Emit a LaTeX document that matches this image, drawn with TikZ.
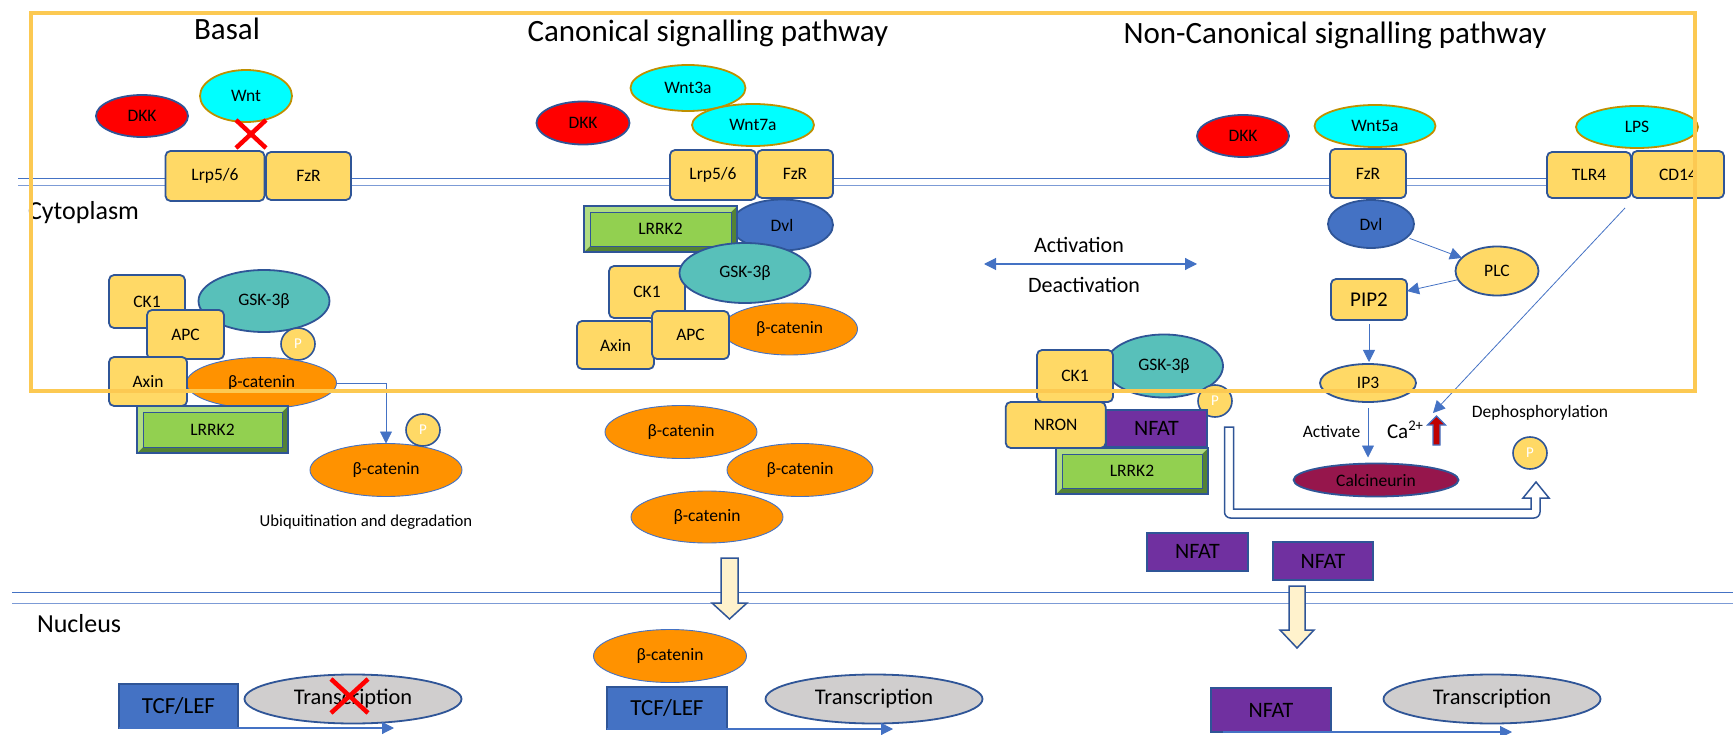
\documentclass[tikz,border=0pt]{standalone}
\usepackage{fontspec}
\setmainfont{Carlito}
\usetikzlibrary{shapes.geometric,arrows.meta}
\definecolor{bdark}{RGB}{47,85,151}
\definecolor{bmid}{RGB}{68,114,196}
\definecolor{blight}{RGB}{124,155,214}
\definecolor{boxy}{RGB}{255,217,102}
\definecolor{frameY}{RGB}{252,201,82}
\definecolor{cyanW}{RGB}{0,255,255}
\definecolor{goldB}{RGB}{191,144,0}
\definecolor{tealG}{RGB}{88,192,186}
\definecolor{betaO}{RGB}{255,146,0}
\definecolor{lgreen}{RGB}{146,208,80}
\definecolor{bevL}{RGB}{176,220,130}
\definecolor{bevD}{RGB}{84,130,53}
\definecolor{nfatP}{RGB}{112,48,160}
\definecolor{calcR}{RGB}{150,22,76}
\definecolor{trG}{RGB}{208,206,206}
\definecolor{arrY}{RGB}{255,242,204}
\definecolor{caRed}{RGB}{192,0,0}
\newcommand\fsz[1]{\fontsize{#1pt}{#1pt}\selectfont}
\begin{document}
\begin{tikzpicture}[x=1pt,y=-1pt,
  every node/.style={inner sep=0pt,outer sep=0pt,font=\fsz{17.5}},
  sz/.style n args={2}{minimum width=#1,minimum height=#2},
  box/.style={draw=bdark,line width=1.8pt,fill=boxy,rounded corners=5pt},
  ell/.style={ellipse,draw=bdark,line width=1.8pt},
  wnt/.style={ellipse,draw=goldB,line width=1.8pt,fill=cyanW},
  bell/.style={ellipse,draw=bmid,line width=0.9pt,fill=betaO},
  pc/.style={ellipse,draw=bdark,line width=1.6pt,fill=boxy,text=white,font=\fsz{15},minimum width=34,minimum height=32},
  tcf/.style={draw=bdark,line width=1.8pt,fill=bmid,font=\fsz{23}},
  nfat/.style={draw=bdark,line width=1.8pt,fill=nfatP,font=\fsz{22}},
  trans/.style={ellipse,draw=bdark,line width=1.8pt,fill=trG,font=\fsz{22.4},minimum width=217,minimum height=49},
  lrrk/.style={draw=bdark,line width=1.6pt,fill=bevD,
    path picture={
      \fill[bevL] (path picture bounding box.south west) -- (path picture bounding box.north west) -- (path picture bounding box.north east) -- ([shift={(-6pt,-6pt)}]path picture bounding box.north east) -- ([shift={(6pt,-6pt)}]path picture bounding box.north west) -- ([shift={(6pt,6pt)}]path picture bounding box.south west) -- cycle;
      \draw[fill=lgreen,draw=bdark,line width=0.8pt] ([shift={(6pt,6pt)}]path picture bounding box.south west) rectangle ([shift={(-6pt,-6pt)}]path picture bounding box.north east);
    }},
  arr/.style={draw=bmid,line width=1.1pt,-{Triangle[length=12pt,width=12pt]}},
  thinarr/.style={draw=bmid,line width=0.8pt,-{Triangle[length=12pt,width=12pt]}},
  redx/.style={draw=red,line width=4.5pt},
  blockarr/.style={draw=bdark,line width=1.5pt,fill=arrY,line join=miter},
  memA/.style={draw=bmid,line width=1.4pt},
  memB/.style={draw=blight,line width=1.4pt}
]
\useasboundingbox (0,0) rectangle (1733,735);
% membranes
\draw[memA] (18,178.5) -- (1722,178.5);
\draw[memB] (18,185.5) -- (1722,185.5);
\draw[memA] (12,592.5) -- (1733,592.5);
\draw[memB] (12,603.5) -- (1733,603.5);

% titles and labels
\node[anchor=base,font=\fsz{31}] (tBasal) at (227,40) {Basal};
\node[anchor=base,font=\fsz{31}] (tCan) at (708,42) {Canonical signalling pathway};
\node[anchor=base,font=\fsz{31}] (tNon) at (1335,44) {Non-Canonical signalling pathway};
\node[anchor=base west,font=\fsz{26}] (cyto) at (28,220) {Cytoplasm};
\node[anchor=base west,font=\fsz{26}] (nucl) at (37,632) {Nucleus};
\node[anchor=base,font=\fsz{22}] (actT) at (1079,253) {Activation};
\node[anchor=base,font=\fsz{22}] (deactT) at (1084,293) {Deactivation};
\coordinate (actL) at (984,264);
\coordinate (actR) at (1197,264);
\draw[draw=bmid,line width=1.1pt,{Triangle[length=12pt,width=12pt]}-{Triangle[length=12pt,width=12pt]}] (actL) -- (actR);

% ---------------- Basal ----------------
\node[ell,fill=red,sz={92}{42}] (dkkB) at (142,116) {DKK};
\node[wnt,sz={92}{52}] (wntB) at (246,96) {Wnt};
\node[box,sz={99}{50}] (lrpB) at (215,176) {Lrp5/6};
\node[box,sz={85}{48}] (fzrB) at (308.5,176) {FzR};
\draw[redx] (236,120) -- (266,148);
\draw[redx] (266,120) -- (236,148);
\node[ell,fill=tealG,sz={131}{62}] (gskB) at (264,301) {GSK-3β};
\node[box,sz={76}{53}] (ck1B) at (147,301.5) {CK1};
\node[box,sz={77}{49}] (apcB) at (185.5,334.5) {APC};
\node[pc] (pB) at (298,344) {P};
\node[bell,sz={150}{51}] (betaB) at (261.5,383) {β-catenin};
\node[box,sz={78}{49}] (axinB) at (148,381.5) {Axin};
\node[lrrk,sz={151}{47}] (lrrkB) at (212.5,429.5) {LRRK2};
\node[bell,sz={152}{53}] (betaB2) at (386,470) {β-catenin};
\node[pc] (pB2) at (423,430) {P};
\draw[thinarr] (betaB.east) -| (betaB2.north);
\node[font=\fsz{16.7}] (ubq) at (366,522) {Ubiquitination and degradation};
% nucleus basal
\node[tcf,sz={119}{44}] (tcfB) at (178.5,706) {TCF/LEF};
\node[trans] (transB) at (353,699) {Transcription};
\draw[redx] (331,679) -- (368,713);
\draw[redx] (368,679) -- (331,713);
\coordinate (geneB) at (394,728);
\draw[arr] (tcfB.south west) -- (tcfB.south west -| geneB);

% ---------------- Canonical ----------------
\node[ell,fill=red,sz={93}{43}] (dkkC) at (583,123) {DKK};
\node[wnt,sz={115}{46}] (wnt3a) at (688,88) {Wnt3a};
\node[wnt,sz={122}{42}] (wnt7a) at (753,125) {Wnt7a};
\node[box,sz={86}{50}] (lrpC) at (713,175) {Lrp5/6};
\node[box,sz={76}{48}] (fzrC) at (795,174) {FzR};
\node[ell,fill=bmid,sz={102}{51}] (dvlC) at (782,225) {Dvl};
\node[lrrk,sz={153}{46}] (lrrkC) at (660.5,229) {LRRK2};
\node[box,sz={76}{52}] (ck1C) at (647,292) {CK1};
\node[ell,fill=tealG,sz={131}{60}] (gskC) at (745,273) {GSK-3β};
\node[bell,sz={136}{52}] (betaC) at (789.5,329) {β-catenin};
\node[box,sz={77}{48}] (axinC) at (615.5,345) {Axin};
\node[box,sz={77}{48}] (apcC) at (690.5,335) {APC};
\node[bell,sz={152}{53}] (betaC1) at (681,432) {β-catenin};
\node[bell,sz={146}{53}] (betaC2) at (800,470) {β-catenin};
\node[bell,sz={152}{52}] (betaC3) at (707,517) {β-catenin};
\draw[blockarr] (721,558) -- (721,603) -- (712,603) -- (729.5,619) -- (747,603) -- (738,603) -- (738,558) -- cycle;
\node[bell,sz={153}{53}] (betaN) at (670,656) {β-catenin};
\node[tcf,sz={120}{42}] (tcfC) at (667,708) {TCF/LEF};
\node[trans] (transC) at (874,699) {Transcription};
\coordinate (geneC) at (893,730);
\draw[arr] (tcfC.south west) -- (tcfC.south west -| geneC);

% ---------------- Non-canonical ----------------
\node[ell,fill=red,sz={92}{42}] (dkkN) at (1243,136) {DKK};
\node[wnt,sz={121}{42}] (wnt5a) at (1375,126) {Wnt5a};
\node[wnt,sz={122}{42}] (lps) at (1637,127) {LPS};
\node[box,sz={76}{49}] (fzrN) at (1368,173.5) {FzR};
\node[box,sz={84}{46}] (tlr4) at (1589,175) {TLR4};
\node[box,sz={92}{47}] (cd14) at (1678,174.5) {CD14};
\node[ell,fill=bmid,sz={86}{48}] (dvlN) at (1371,224) {Dvl};
\node[ell,fill=boxy,sz={83}{49}] (plc) at (1497,271) {PLC};
\node[box,sz={76}{41},font=\fsz{21}] (pip2) at (1369,299.5) {PIP2};
\node[ell,fill=boxy,sz={96}{38}] (ip3) at (1368,383) {IP3};
\node[ell,fill=calcR,sz={165}{33}] (calc) at (1376,480) {Calcineurin};
\node (actv) at (1331.5,432) {Activate};
\node[anchor=base west,font=\fsz{21}] (ca) at (1387,438) {Ca\textsuperscript{2+}};
\draw[draw=bmid,line width=1.2pt,fill=caRed] (1433,445) -- (1433,425) -- (1427.5,425) -- (1436.5,416) -- (1445.5,425) -- (1440,425) -- (1440,445) -- cycle;
\coordinate (caTip) at (1433,413);
\node (deph) at (1540,413) {Dephosphorylation};
\node[pc] (pN2) at (1530,453) {P};
\node[ell,fill=tealG,sz={118}{63}] (gskN) at (1164,366) {GSK-3β};
\node[box,sz={76}{52}] (ck1N) at (1075,376) {CK1};
\node[pc] (pN) at (1215,401) {P};
\node[box,sz={100}{46}] (nron) at (1055.7,425) {NRON};
\node[nfat,sz={101}{37}] (nfatC) at (1156.5,428.5) {NFAT};
\node[lrrk,sz={152}{46}] (lrrkN) at (1132,471) {LRRK2};
\draw[draw=bdark,line width=1.5pt,fill=white,line join=miter]
  (1224.5,427) -- (1224.5,512) [rounded corners=6pt] -- (1224.5,518) -- (1540,518) [sharp corners] -- (1540,498) -- (1549,498) -- (1536,482) -- (1523,498) -- (1531,498) -- (1531,509) -- (1233.5,509) -- (1233.5,427) -- cycle;
\node[nfat,sz={101}{38}] (nfat1) at (1197.5,551.6) {NFAT};
\node[nfat,sz={100}{38}] (nfat2) at (1323,561) {NFAT};
\draw[blockarr] (1289,586) -- (1289,630) -- (1280,630) -- (1297,648) -- (1314,630) -- (1305,630) -- (1305,586) -- cycle;
\node[nfat,sz={120}{44}] (nfatN) at (1271,710) {NFAT};
\node[trans] (transN) at (1492,699) {Transcription};
\coordinate (geneN) at (1512,732);
\draw[arr] ([xshift=12pt]nfatN.south west) -- (nfatN.south west -| geneN);

% connectors
\draw[thinarr,shorten <=3pt] (dvlN) -- (plc);
\draw[thinarr] (plc) -- (pip2);
\draw[thinarr,shorten <=4pt,shorten >=2pt] (pip2.south) -- (pip2.south |- ip3.north);
\draw[thinarr,shorten <=6pt,shorten >=6pt] (ip3.south) -- (ip3.south |- calc.north);
\draw[thinarr] ([shift={(-7pt,-10pt)}]cd14.south west) -- (caTip);

% frame
\draw[frameY,line width=3.5pt] (31,13) rectangle (1695,391);
\end{tikzpicture}
\end{document}
